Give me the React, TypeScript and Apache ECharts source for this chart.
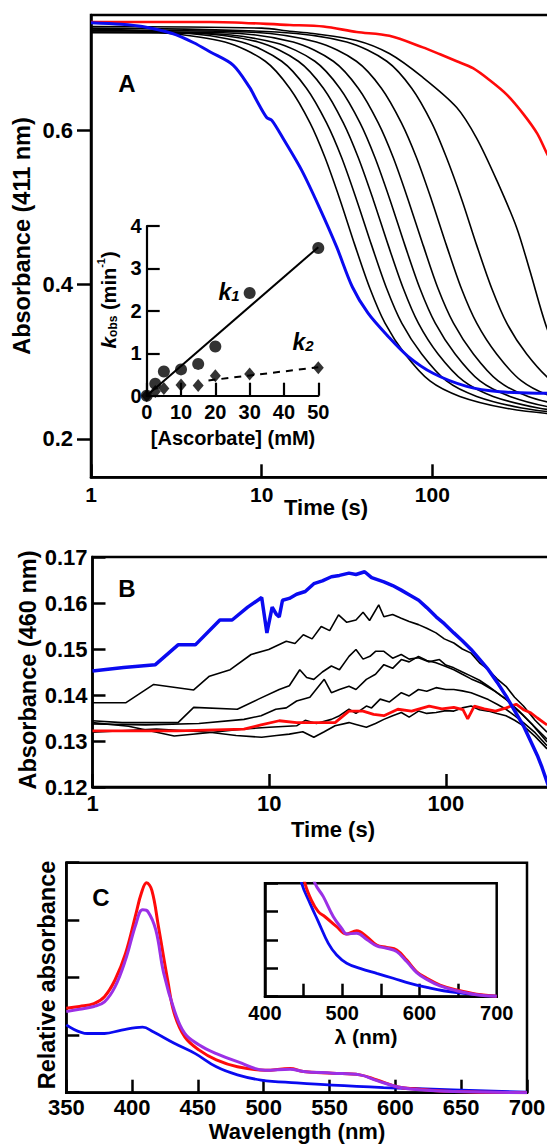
import React, { useEffect, useRef } from "react";
import * as echarts from "echarts";

// ---------- Panel A: absorbance at 411 nm vs time ----------
const aBlue = [[1,0.740],[1.5,0.738],[2,0.735],[3,0.726],[4,0.714],[5,0.702],[6.8,0.685],[8.5,0.656],[9.3,0.640],[10.7,0.617],[11.5,0.613],[13.5,0.588],[17.2,0.548],[21.8,0.5],[27.5,0.449],[34,0.397],[42,0.363],[55,0.333],[72,0.307],[101,0.285],[159,0.268],[249,0.261],[470,0.259],[1000,0.258]];
const aRed = [[1,0.741],[5,0.741],[14.6,0.737],[23,0.735],[36,0.728],[56,0.723],[88,0.708],[111,0.699],[139,0.690],[173,0.681],[218,0.665],[272,0.647],[340,0.622],[412,0.596],[470,0.570],[560,0.54],[700,0.49]];
const aBlack1 = [[1,0.732],[2.37,0.728],[6.09,0.715],[10.5,0.69],[14.6,0.655],[19.2,0.61],[23.5,0.565],[28.8,0.51],[35.2,0.451],[43.1,0.395],[52.8,0.35],[69.1,0.31],[96.8,0.275],[145,0.255],[266,0.24],[524,0.232],[1000,0.23]];
const aBlack2 = [[1,0.73],[2.97,0.728],[7.63,0.715],[13.1,0.69],[18.3,0.655],[24.0,0.61],[29.4,0.565],[36.0,0.51],[44.1,0.451],[54.0,0.395],[66.2,0.35],[86.6,0.31],[121,0.275],[182,0.255],[334,0.24],[657,0.232],[1000,0.23]];
const aBlack3 = [[1,0.728],[3.71,0.727],[9.55,0.715],[16.4,0.69],[23.0,0.655],[30.1,0.61],[36.8,0.565],[45.1,0.51],[55.2,0.451],[67.6,0.395],[82.8,0.35],[108,0.31],[152,0.275],[227,0.255],[418,0.24],[822,0.232]];
const aBlack4 = [[1,0.727],[4.65,0.726],[12.0,0.714],[20.5,0.69],[28.7,0.655],[37.7,0.61],[46.1,0.565],[56.5,0.51],[69.1,0.451],[84.6,0.395],[104,0.35],[136,0.31],[190,0.275],[285,0.255],[523,0.24],[1000,0.234]];
const aBlack5 = [[1,0.728],[5.95,0.727],[15.3,0.715],[26.3,0.69],[36.8,0.655],[48.2,0.61],[59.0,0.565],[72.2,0.51],[88.4,0.451],[108,0.395],[133,0.35],[174,0.31],[243,0.275],[364,0.255],[669,0.24]];
const aBlack6 = [[1,0.73],[8.14,0.728],[20.9,0.715],[35.9,0.69],[50.3,0.655],[65.9,0.61],[80.7,0.565],[98.9,0.51],[121,0.451],[148,0.395],[182,0.35],[238,0.31],[333,0.275],[499,0.255],[916,0.24]];
const aBlack7 = [[1,0.733],[12.2,0.728],[31.5,0.715],[54.1,0.69],[75.7,0.655],[99.2,0.61],[121,0.565],[149,0.51],[182,0.451],[223,0.395],[273,0.35],[357,0.31],[501,0.275],[750,0.255]];
const aBlack8 = [[1,0.735],[10,0.733],[14.6,0.729],[20,0.726],[36,0.717],[56,0.70],[88,0.669],[139,0.63],[182,0.59],[239,0.535],[312,0.474],[373,0.418],[470,0.343],[600,0.29],[800,0.26]];
const aBlacks = [aBlack1, aBlack2, aBlack3, aBlack4, aBlack5, aBlack6, aBlack7, aBlack8];
const aYTicks = [0.2, 0.4, 0.6];
const timeLabels = [1, 10, 100];

// Inset: k_obs vs [ascorbate]
const kConc = [0, 2.5, 5, 10, 15, 20, 30, 50];
const k1Vals = [0, 0.28, 0.57, 0.62, 0.75, 1.16, 2.42, 3.48];
const k2Vals = [0, 0.1, 0.17, 0.25, 0.24, 0.47, 0.51, 0.66];
const k1Fit = [[0, 0], [50, 3.5]];
const k2Fit = [[18, 0.36], [50, 0.67]];

// ---------- Panel B: absorbance at 460 nm vs time ----------
const bBlue = [[1,0.1452],[1.5,0.146],[2.27,0.1466],[3.05,0.1509],[3.82,0.1509],[5.26,0.1563],[6.17,0.1563],[7.56,0.1591],[9.07,0.1612],[9.71,0.1535],[10.4,0.1591],[11.0,0.1575],[11.4,0.157],[11.9,0.1606],[13,0.161],[14.3,0.1619],[16,0.1625],[17.9,0.1642],[20,0.1648],[22.5,0.1657],[25,0.166],[28.3,0.1665],[31,0.1662],[34.7,0.1668],[38,0.1655],[44.6,0.1646],[50,0.1638],[55.9,0.1628],[62,0.1618],[70.2,0.1606],[78,0.159],[88.1,0.157],[98,0.1555],[111,0.1535],[124,0.1518],[139,0.1499],[155,0.1478],[174,0.1455],[195,0.1428],[219,0.1398],[245,0.1366],[275,0.1333],[300,0.1302],[330,0.1268],[350,0.1243],[374,0.1211],[390,0.119]];
const bRed = [[1,0.1322],[3,0.1322],[7.2,0.1326],[9,0.1335],[11.4,0.1344],[14.3,0.134],[18,0.134],[23.6,0.134],[28.3,0.1365],[34,0.1365],[39,0.1358],[44.6,0.1355],[53.5,0.1369],[64,0.1365],[80.5,0.1376],[95,0.137],[111,0.1373],[125,0.1368],[133,0.1348],[145,0.1376],[165,0.137],[191,0.1365],[220,0.1372],[250,0.138],[275,0.1368],[300,0.1362],[330,0.135],[374,0.1335]];
const bBlack1 = [[1,0.1383],[1.54,0.1383],[2.22,0.1423],[3.74,0.1411],[4.59,0.1441],[6.02,0.1455],[7.9,0.1488],[9.94,0.1499],[12.5,0.1517],[14,0.1512],[15.6,0.1531],[17.5,0.1522],[19.7,0.1549],[22,0.154],[24.7,0.1574],[27.5,0.1558],[31,0.1563],[34,0.158],[37,0.1562],[41.7,0.1596],[44.6,0.157],[50,0.1575],[55.9,0.1567],[62,0.156],[70,0.1553],[78,0.1545],[88,0.1535],[98,0.1522],[111,0.1513],[124,0.15],[139,0.1491],[155,0.147],[174,0.1455],[195,0.1435],[219,0.1419],[245,0.1395],[275,0.1376],[320,0.1345],[374,0.1319]];
const bBlack2 = [[1,0.1344],[1.47,0.134],[2.22,0.134],[3.05,0.134],[3.74,0.1373],[6.6,0.1369],[8.7,0.1391],[11.4,0.1412],[13,0.142],[14.9,0.1455],[16.3,0.1438],[17.9,0.1434],[20,0.145],[22.5,0.1463],[25,0.1455],[28.3,0.1484],[31,0.1499],[34,0.1478],[37.2,0.1484],[40,0.1495],[44.6,0.1495],[50,0.148],[55.9,0.1488],[62,0.1478],[70,0.1481],[80,0.1472],[92,0.1477],[100,0.1465],[111,0.1459],[124,0.145],[139,0.1441],[155,0.1432],[174,0.1419],[195,0.1405],[219,0.1391],[245,0.1372],[275,0.1355],[320,0.133],[374,0.1304]];
const bBlack3 = [[1,0.1337],[2,0.1335],[4,0.1338],[7.2,0.1347],[9,0.1355],[10.9,0.1369],[12.5,0.1372],[14.3,0.1387],[17,0.1395],[20.5,0.1434],[22.5,0.1405],[25,0.1412],[28.3,0.1419],[31,0.1412],[35.5,0.1434],[40,0.1445],[44.6,0.1466],[50,0.1458],[56,0.1477],[62,0.1472],[70,0.1484],[78,0.1475],[88,0.147],[100,0.1462],[111,0.1455],[124,0.1445],[139,0.1435],[160,0.1425],[190,0.1408],[220,0.139],[260,0.1365],[310,0.1335],[374,0.1298]];
const bBlack4 = [[1,0.134],[1.6,0.1332],[2.9,0.1311],[4.5,0.1318],[7.2,0.1326],[10,0.133],[14.3,0.1333],[16,0.1345],[18.5,0.1338],[22.5,0.1347],[25,0.1355],[28.3,0.1369],[31,0.136],[35.5,0.1376],[38,0.1372],[42.5,0.1391],[48,0.1385],[56,0.1405],[62,0.1398],[70,0.1412],[78,0.1408],[88,0.1416],[100,0.1412],[111,0.1412],[124,0.1409],[139,0.1405],[155,0.1398],[174,0.139],[195,0.138],[219,0.1369],[245,0.1355],[275,0.134],[320,0.1318],[374,0.129]];
const bBlack5 = [[1,0.1319],[2.3,0.1326],[4.6,0.1319],[6.5,0.1312],[9.07,0.1308],[11,0.1312],[13,0.1315],[15.5,0.132],[17.9,0.1308],[20.5,0.132],[23.6,0.1333],[28.3,0.134],[31,0.1336],[35.5,0.133],[40,0.1338],[44.6,0.1347],[50,0.1355],[56,0.1362],[62,0.1352],[70,0.1365],[78,0.136],[88,0.1362],[100,0.1366],[111,0.1365],[124,0.1372],[139,0.1376],[155,0.1368],[174,0.1365],[195,0.136],[219,0.1355],[245,0.1345],[275,0.1333],[320,0.131],[374,0.1283]];
const bBlacks = [bBlack1, bBlack2, bBlack3, bBlack4, bBlack5];

// ---------- Panel C: spectra ----------
const cRed = [[350,1.47],[360,1.5],[371,1.55],[379,1.67],[387,1.96],[395,2.42],[403,3.12],[407,3.47],[411,3.65],[415,3.52],[420,2.89],[427,1.96],[432,1.38],[440,0.97],[451,0.74],[464,0.57],[480,0.45],[501,0.39],[520,0.42],[530,0.37],[552,0.34],[573,0.31],[586,0.22],[602,0.10],[618,0.06],[644,0.02],[700,0]];
const cPurple = [[350,1.41],[360,1.45],[371,1.5],[379,1.58],[387,1.84],[395,2.31],[403,2.94],[408,3.18],[412,3.15],[418,2.83],[424,2.08],[432,1.44],[440,1.03],[451,0.83],[464,0.68],[480,0.54],[501,0.39],[520,0.41],[530,0.37],[552,0.34],[573,0.31],[586,0.21],[602,0.10],[618,0.05],[644,0.02],[700,0]];
const cBlue = [[350,1.18],[366,1.03],[379,1.03],[392,1.09],[408,1.14],[416,1.06],[432,0.86],[448,0.68],[464,0.45],[480,0.31],[498,0.22],[525,0.17],[552,0.13],[591,0.09],[644,0.05],[700,0.01]];
const ciRed = [[445,5],[451.8,4.0],[460,3.41],[469,3.0],[477.7,2.82],[492.8,2.47],[505.8,2.21],[518.7,2.33],[531.7,2.12],[544.6,1.82],[557.6,1.74],[570.5,1.65],[583.5,1.29],[596.4,0.88],[609.4,0.65],[626.6,0.41],[648.2,0.24],[674.1,0.09],[700,0.02]];
const ciPurple = [[455,5],[464.7,4.0],[475.5,3.53],[488.5,2.82],[499.3,2.41],[505.8,2.21],[518.7,2.24],[531.7,2.02],[544.6,1.79],[557.6,1.71],[570.5,1.59],[583.5,1.24],[596.4,0.85],[609.4,0.61],[626.6,0.38],[648.2,0.21],[674,0.07],[700,0.02]];
const ciBlue = [[440,5],[447.5,4.0],[458.3,3.29],[469,2.65],[482,1.88],[492.8,1.47],[505.8,1.18],[523,1.0],[544.6,0.82],[566,0.65],[587.8,0.47],[609.4,0.33],[631,0.21],[657,0.12],[682.8,0.05],[700,0.02]];
const ciTicks = [450, 500, 550, 600, 650];
const ciLabels = [400, 500, 600, 700];

const FONT = "'Liberation Sans', Arial, sans-serif";
const RED = "#ff0a0a";
const BLUE = "#0a0af0";
const PURPLE = "#9b30e6";

function line(data: number[][], xi: number, color: string, width: number, smooth: number | boolean = 0.3, z = 2) {
  return {
    type: "line", xAxisIndex: xi, yAxisIndex: xi, data, showSymbol: false, symbol: "none",
    smooth, z, lineStyle: { color, width }, silent: true,
  };
}

function axisCommon(width = 2.5) {
  return {
    axisLine: { show: true, onZero: false, lineStyle: { color: "#000", width } },
    splitLine: { show: false },
    minorTick: { show: false },
  };
}

function text(t: string, x: number, y: number, size: number, rotate = 0, extra: any = {}) {
  return {
    type: "text", x, y, rotation: rotate, z: 100,
    style: {
      text: t, fill: "#000", font: `bold ${size}px ${FONT}`,
      textAlign: "center", textVerticalAlign: "middle", ...extra,
    },
  };
}

function buildOption(): any {
  const labelStyle = (size: number) => ({ color: "#000", fontSize: size, fontWeight: "bold", fontFamily: FONT });
  return {
    animation: false,
    backgroundColor: "#fff",
    grid: [
      { left: 91, top: 15, width: 512, height: 462.3, show: true, borderColor: "#000", borderWidth: 2.5, backgroundColor: "transparent" },
      { left: 146.7, top: 226, width: 171.6, height: 169.7, show: false },
      { left: 92.5, top: 557, width: 530, height: 230, show: true, borderColor: "#000", borderWidth: 2.5, backgroundColor: "transparent" },
      { left: 66.3, top: 862.7, width: 460.7, height: 230, show: true, borderColor: "#000", borderWidth: 2.5, backgroundColor: "transparent" },
      { left: 265, top: 883.3, width: 231.7, height: 113.4, show: true, borderColor: "#000", borderWidth: 2.5, backgroundColor: "transparent" },
    ],
    xAxis: [
      { gridIndex: 0, type: "log", logBase: 10, min: 1, max: 1000, ...axisCommon(),
        axisTick: { show: true, inside: true, length: 13, lineStyle: { color: "#000", width: 2.5 } },
        axisLabel: { ...labelStyle(21), margin: 7, customValues: timeLabels, formatter: (v: number) => String(Math.round(v)) } },
      { gridIndex: 1, type: "value", min: 0, max: 50, interval: 10, ...axisCommon(2.2),
        axisTick: { show: true, inside: true, length: 13, lineStyle: { color: "#000", width: 2.2 } },
        axisLabel: { ...labelStyle(20), margin: 6 } },
      { gridIndex: 2, type: "log", logBase: 10, min: 1, max: 1000, ...axisCommon(),
        axisTick: { show: true, inside: true, length: 13, lineStyle: { color: "#000", width: 2.5 } },
        axisLabel: { ...labelStyle(22), margin: 5, customValues: timeLabels, formatter: (v: number) => String(Math.round(v)) } },
      { gridIndex: 3, type: "value", min: 350, max: 700, interval: 50, ...axisCommon(),
        axisTick: { show: true, inside: true, length: 13, lineStyle: { color: "#000", width: 2.5 } },
        axisLabel: { ...labelStyle(22), margin: 4, showMinLabel: true, showMaxLabel: true } },
      { gridIndex: 4, type: "value", min: 400, max: 700, ...axisCommon(),
        axisTick: { show: true, inside: true, length: 13, customValues: ciTicks, lineStyle: { color: "#000", width: 2.5 } },
        axisLabel: { ...labelStyle(20), margin: 6, customValues: ciLabels } },
    ],
    yAxis: [
      { gridIndex: 0, type: "value", min: 0.15, max: 0.75, ...axisCommon(),
        axisTick: { show: true, inside: false, length: 14, customValues: aYTicks, lineStyle: { color: "#000", width: 2.5 } },
        axisLabel: { ...labelStyle(22), margin: 18, customValues: aYTicks, formatter: (v: number) => v.toFixed(1) } },
      { gridIndex: 1, type: "value", min: 0, max: 4, interval: 1, ...axisCommon(2.2),
        axisTick: { show: true, inside: true, length: 13, lineStyle: { color: "#000", width: 2.2 } },
        axisLabel: { ...labelStyle(20), margin: 5 } },
      { gridIndex: 2, type: "value", min: 0.12, max: 0.17, interval: 0.01, ...axisCommon(),
        axisTick: { show: true, inside: true, length: 13, lineStyle: { color: "#000", width: 2.5 } },
        axisLabel: { ...labelStyle(22), margin: 5, formatter: (v: number) => v.toFixed(2) } },
      { gridIndex: 3, type: "value", min: 0, max: 4, interval: 1, ...axisCommon(),
        axisTick: { show: true, inside: true, length: 13, lineStyle: { color: "#000", width: 2.5 } },
        axisLabel: { show: false } },
      { gridIndex: 4, type: "value", min: 0, max: 4, interval: 1, ...axisCommon(),
        axisTick: { show: true, inside: true, length: 13, lineStyle: { color: "#000", width: 2.5 } },
        axisLabel: { show: false } },
    ],
    series: [
      ...aBlacks.map((d) => line(d, 0, "#000", 1.6)),
      line(aRed, 0, RED, 2.6),
      line(aBlue, 0, BLUE, 3),
      // inset
      line(k1Fit, 1, "#000", 2, false, 5),
      { type: "line", xAxisIndex: 1, yAxisIndex: 1, data: k2Fit, showSymbol: false, symbol: "none", z: 5,
        lineStyle: { color: "#000", width: 2, type: [7, 6] } },
      { type: "scatter", xAxisIndex: 1, yAxisIndex: 1, z: 6, symbol: "circle", symbolSize: 12,
        itemStyle: { color: "#000" }, data: kConc.map((c, i) => [c, k1Vals[i]]) },
      { type: "scatter", xAxisIndex: 1, yAxisIndex: 1, z: 6, symbol: "diamond", symbolSize: [11, 13],
        itemStyle: { color: "#000" }, data: kConc.map((c, i) => [c, k2Vals[i]]) },
      // panel B
      ...bBlacks.map((d) => line(d, 2, "#000", 1.6, false)),
      line(bRed, 2, RED, 2.8, false),
      line(bBlue, 2, BLUE, 3.5, false),
      // panel C
      line(cBlue, 3, BLUE, 2.8, 0.4),
      line(cRed, 3, RED, 3, 0.4),
      line(cPurple, 3, PURPLE, 3, 0.4),
      line(ciBlue, 4, BLUE, 2.8, 0.4),
      line(ciRed, 4, RED, 3, 0.4),
      line(ciPurple, 4, PURPLE, 3, 0.4),
    ],
    graphic: [
      text("A", 127, 83, 24),
      text("B", 127, 588, 24),
      text("C", 101, 897, 24),
      text("Absorbance (411 nm)", 22, 236, 23.5, Math.PI / 2),
      text("Absorbance (460 nm)", 28, 670, 23.5, Math.PI / 2),
      text("Relative absorbance", 47, 975, 23.5, Math.PI / 2),
      text("Time (s)", 326, 507, 22),
      text("Time (s)", 333, 829, 22),
      text("Wavelength (nm)", 297, 1131, 22),
      text("[Ascorbate] (mM)", 233, 438, 20),
      text("λ (nm)", 366, 1036, 21),
      {
        type: "text", x: 107, y: 300, rotation: Math.PI / 2, z: 100,
        style: {
          text: "{k|k}{s|obs}{n| (min}{p|-1}{n|)}",
          textAlign: "center", textVerticalAlign: "middle",
          rich: {
            k: { font: `italic bold 21px ${FONT}`, fill: "#000", verticalAlign: "bottom", lineHeight: 24 },
            s: { font: `bold 12px ${FONT}`, fill: "#000", verticalAlign: "bottom", lineHeight: 18 },
            n: { font: `bold 20px ${FONT}`, fill: "#000", verticalAlign: "bottom", lineHeight: 24 },
            p: { font: `bold 11px ${FONT}`, fill: "#000", verticalAlign: "top", lineHeight: 24 },
          },
        },
      },
      {
        type: "text", x: 229, y: 290, z: 100,
        style: {
          text: "{k|k}{s|1}", textAlign: "center", textVerticalAlign: "middle",
          rich: {
            k: { font: `italic bold 23px ${FONT}`, fill: "#000", verticalAlign: "bottom", lineHeight: 26 },
            s: { font: `italic bold 15px ${FONT}`, fill: "#000", verticalAlign: "bottom", lineHeight: 20 },
          },
        },
      },
      {
        type: "text", x: 303, y: 340, z: 100,
        style: {
          text: "{k|k}{s|2}", textAlign: "center", textVerticalAlign: "middle",
          rich: {
            k: { font: `italic bold 23px ${FONT}`, fill: "#000", verticalAlign: "bottom", lineHeight: 26 },
            s: { font: `italic bold 15px ${FONT}`, fill: "#000", verticalAlign: "bottom", lineHeight: 20 },
          },
        },
      },
    ],
  };
}

export default function App() {
  const ref = useRef<HTMLDivElement>(null);
  useEffect(() => {
    if (!ref.current) return;
    const chart = echarts.init(ref.current, null, { renderer: "svg" });
    chart.setOption(buildOption());
    return () => chart.dispose();
  }, []);
  return (
    <div style={{ position: "fixed", left: 0, top: 0, width: 547, height: 1144, overflow: "hidden", background: "#fff" }}>
      <div ref={ref} style={{ width: 640, height: 1144 }} />
    </div>
  );
}
